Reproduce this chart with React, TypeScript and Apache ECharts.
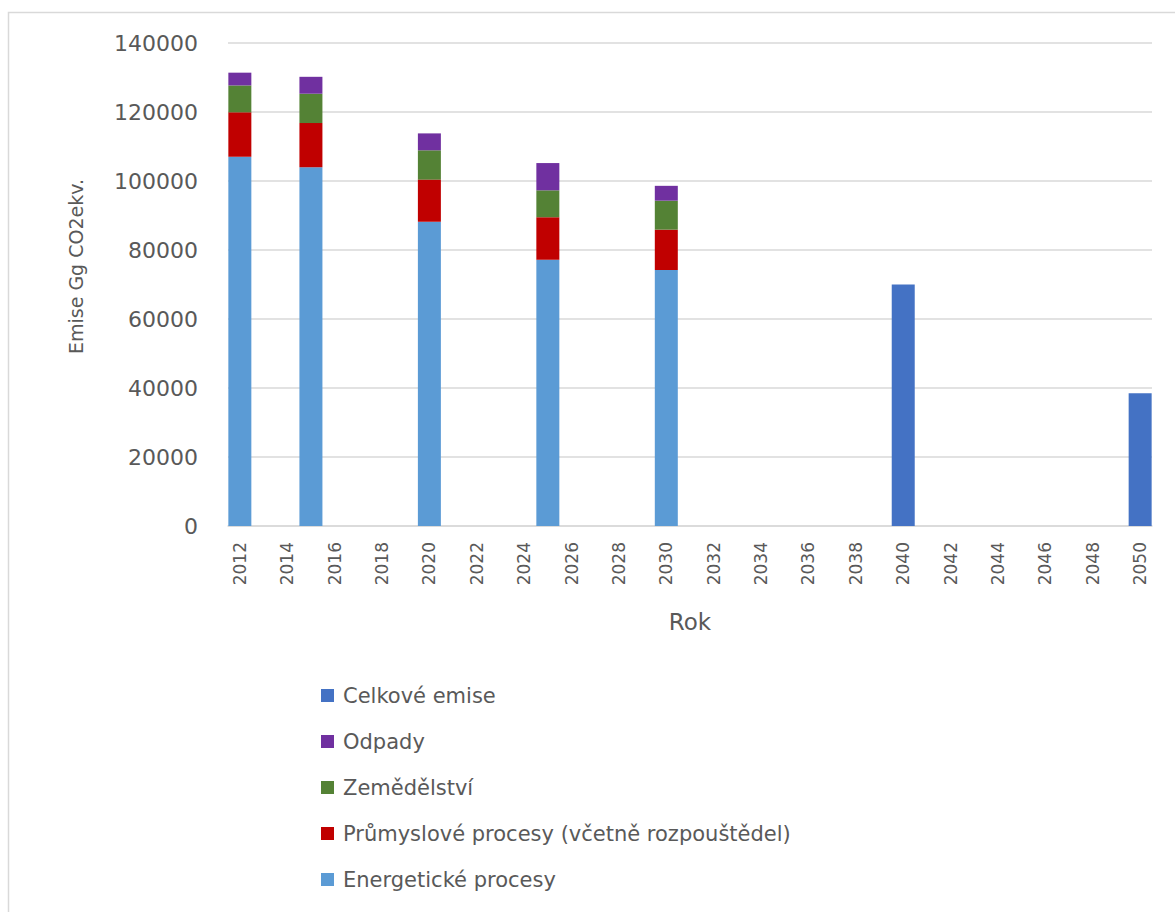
import React, { useEffect, useRef } from "react";
import * as echarts from "echarts";

const allYears: number[] = [];
for (let y = 2012; y <= 2050; y++) allYears.push(y);

const sectorYears = [2012, 2015, 2020, 2025, 2030];
const energetic = [107000, 104000, 88200, 77200, 74200];
const industrial = [12900, 12800, 12200, 12300, 11700];
const agriculture = [7800, 8500, 8500, 7800, 8400];
const waste = [3700, 4900, 4900, 7900, 4300];

const totalYears = [2040, 2050];
const totals = [70000, 38500];

const yTicks = [0, 20000, 40000, 60000, 80000, 100000, 120000, 140000];

function spread(years: number[], vals: number[]) {
  return allYears.map((y) => {
    const i = years.indexOf(y);
    return i >= 0 ? vals[i] : null;
  });
}

const FONT = "'DejaVu Sans', sans-serif";
const GREY = "#595959";

export default function App() {
  const ref = useRef<HTMLDivElement>(null);
  useEffect(() => {
    if (!ref.current) return;
    const chart = echarts.init(ref.current, undefined, { renderer: "svg" });
    const mk = (name: string, color: string, data: (number | null)[]) => ({
      name,
      type: "bar",
      stack: "s",
      data,
      barWidth: 23,
      itemStyle: { color },
      emphasis: { disabled: true },
    });
    chart.setOption({
      animation: false,
      backgroundColor: "#fff",
      textStyle: { fontFamily: FONT },
      graphic: [
        {
          type: "rect",
          shape: { x: 8.5, y: 12.5, width: 1200, height: 1000 },
          style: { fill: "none", stroke: "#D9D9D9", lineWidth: 1.5 },
          silent: true,
        },
      ],
      grid: { left: 228, right: 23, top: 43, bottom: 386, containLabel: false },
      legend: {
        orient: "vertical",
        left: 316,
        top: 680,
        itemWidth: 13,
        itemHeight: 13,
        itemGap: 25,
        icon: "rect",
        data: [
          "Celkové emise",
          "Odpady",
          "Zemědělství",
          "Průmyslové procesy (včetně rozpouštědel)",
          "Energetické procesy",
        ],
        textStyle: { color: GREY, fontSize: 21, fontFamily: FONT, lineHeight: 21, padding: [0, 0, 0, 4] },
      },
      xAxis: {
        type: "category",
        data: allYears.map(String),
        name: "Rok",
        nameLocation: "middle",
        nameGap: 84,
        nameTextStyle: { color: GREY, fontSize: 23, fontFamily: FONT },
        axisLine: { lineStyle: { color: "#D9D9D9", width: 1.5 } },
        axisTick: { show: false },
        axisLabel: {
          interval: 1,
          rotate: 90,
          color: GREY,
          fontSize: 17,
          margin: 16,
          fontFamily: FONT,
        },
      },
      yAxis: {
        type: "value",
        min: 0,
        max: 140000,
        interval: 20000,
        name: "Emise Gg CO2ekv.",
        nameLocation: "middle",
        nameGap: 143,
        nameTextStyle: { color: GREY, fontSize: 19, fontFamily: FONT, padding: [0, 0, 0, 36] },
        axisLine: { show: false },
        axisTick: { show: false },
        splitLine: { lineStyle: { color: "#D9D9D9", width: 1.5 } },
        axisLabel: {
          color: GREY,
          fontSize: 22,
          margin: 30,
          fontFamily: FONT,
          formatter: (v: number) => (yTicks.includes(v) ? String(v) : ""),
        },
      },
      series: [
        mk("Energetické procesy", "#5B9BD5", spread(sectorYears, energetic)),
        mk("Průmyslové procesy (včetně rozpouštědel)", "#C00000", spread(sectorYears, industrial)),
        mk("Zemědělství", "#548235", spread(sectorYears, agriculture)),
        mk("Odpady", "#7030A0", spread(sectorYears, waste)),
        mk("Celkové emise", "#4472C4", spread(totalYears, totals)),
      ],
    });
    return () => chart.dispose();
  }, []);
  return (
    <div
      ref={ref}
      style={{ position: "absolute", left: 0, top: 0, width: 1175, height: 912 }}
    />
  );
}
